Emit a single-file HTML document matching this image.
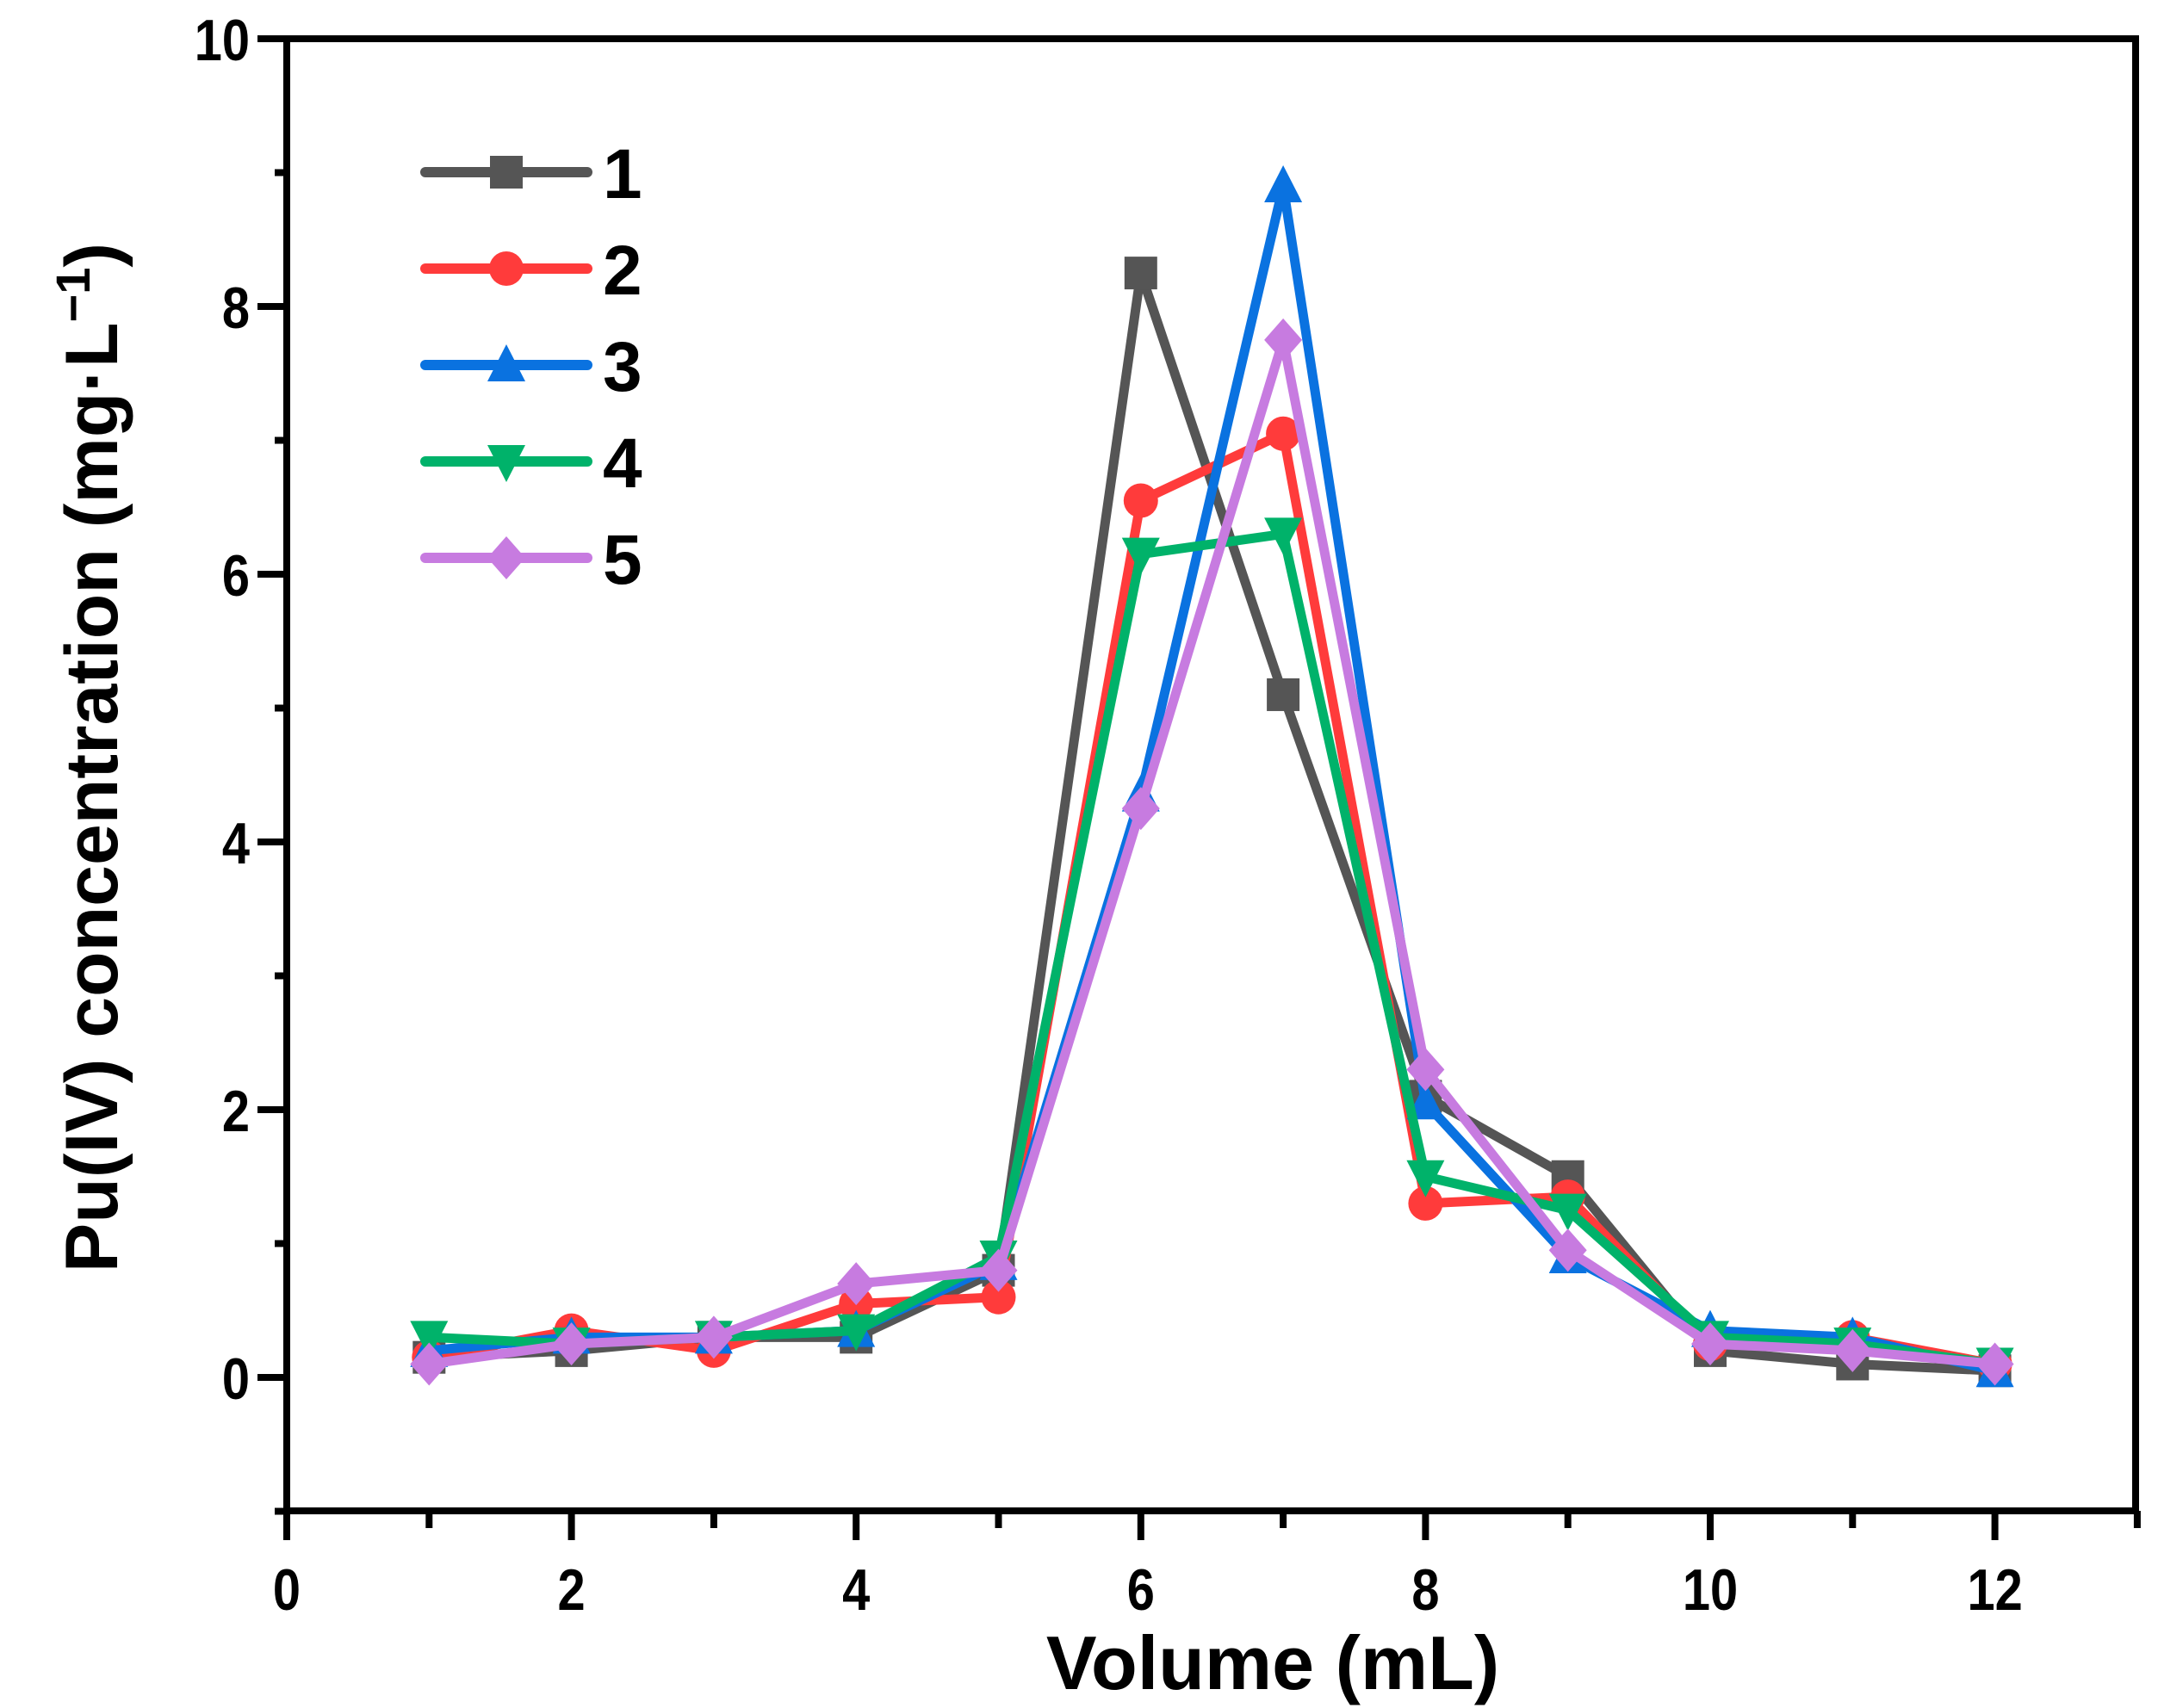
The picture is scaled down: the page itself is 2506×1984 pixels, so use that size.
<!DOCTYPE html>
<html><head><meta charset="utf-8"><style>
html,body{margin:0;padding:0;background:#fff;}
svg{display:block;}
text{font-family:"Liberation Sans",sans-serif;font-weight:bold;fill:#000;}
</style></head><body>
<svg id="chart" width="2506" height="1984" viewBox="0 0 2506 1984" xmlns="http://www.w3.org/2000/svg">
<g id="plot"></g>
</svg>
<script>
const xValues = [1,2,3,4,5,6,7,8,9,10,11,12];
const series1 = [0.15,0.2,0.3,0.3,0.8,8.25,5.1,2.1,1.5,0.2,0.1,0.05];
const series2 = [0.15,0.35,0.2,0.55,0.6,6.55,7.05,1.3,1.35,0.25,0.3,0.1];
const series3 = [0.2,0.3,0.3,0.35,0.85,4.35,8.9,2.05,0.9,0.35,0.3,0.05];
const series4 = [0.3,0.25,0.3,0.35,0.9,6.15,6.3,1.5,1.25,0.3,0.25,0.1];
const series5 = [0.1,0.25,0.3,0.7,0.8,4.25,7.75,2.3,0.95,0.25,0.2,0.1];
const seriesNames = ["1","2","3","4","5"];
const xTickLabels = ["0","2","4","6","8","10","12"];
const yTickLabels = ["0","2","4","6","8","10"];

const NS="http://www.w3.org/2000/svg";
const svg=document.getElementById('plot');
const L=333,R=2480,T=45,B=1755;
const X0=333,XPU=165.3;
function xs(v){return X0+v*XPU;}
function ys(v){return 1600-v*155.5;}
function el(tag,attrs,parent){const e=document.createElementNS(NS,tag);for(const k in attrs)e.setAttribute(k,attrs[k]);(parent||svg).appendChild(e);return e;}

const frame=el('rect',{x:L,y:T,width:R-L,height:B-T,fill:'none',stroke:'#000','stroke-width':8});



for(let v=0;v<=13;v++){
  const major=v%2===0;
  const t=el('line',{x1:xs(v),x2:xs(v),y1:B,y2:B+(major?34:20),stroke:'#000','stroke-width':8});
  
  
}
xTickLabels.forEach(s=>{
  const v=+s;
  const t=el('text',{x:xs(v),y:1870,'font-size':68,'text-anchor':'middle',transform:`translate(${xs(v)},0) scale(0.85,1) translate(${-xs(v)},0)`});
  t.textContent=s;
  
  
});
for(let v=-1;v<=10;v++){
  const major=v%2===0;
  const t=el('line',{x1:L,x2:L-(major?34:14),y1:ys(v),y2:ys(v),stroke:'#000','stroke-width':8});
  
  
}
yTickLabels.forEach(s=>{
  const v=+s;
  const x=290;
  const t=el('text',{x:x,y:ys(v)+25,'font-size':68,'text-anchor':'end',transform:`translate(${x},0) scale(0.85,1) translate(${-x},0)`});
  t.textContent=s;
  
  
});
const xt=el('text',{x:1478,y:1962,'font-size':88,'text-anchor':'middle'});
xt.textContent='Volume (mL)';


const yt=el('text',{x:0,y:0,'font-size':86,'text-anchor':'middle',transform:'translate(136,880) rotate(-90)'});
yt.innerHTML='Pu(IV) concentration (mg·L<tspan dy="-32" font-size="56">−1</tspan><tspan dy="32">)</tspan>';



const colors=['#555555','#ff3b3b','#0a72e0','#00b26a','#c77be0'];
const markers=['square','circle','triangle','tridown','diamond'];
const allSeries=[series1,series2,series3,series4,series5];
function marker(type,cx,cy,color,g){
  const r=19;let m;
  if(type==='square')m=el('rect',{x:cx-r,y:cy-r,width:2*r,height:2*r,fill:color},g);
  else if(type==='circle')m=el('circle',{cx:cx,cy:cy,r:r+1,fill:color},g);
  else if(type==='triangle')m=el('polygon',{points:`${cx},${cy-r-5} ${cx+r+3},${cy+r} ${cx-r-3},${cy+r}`,fill:color},g);
  else if(type==='tridown')m=el('polygon',{points:`${cx},${cy+r+5} ${cx+r+3},${cy-r} ${cx-r-3},${cy-r}`,fill:color},g);
  else m=el('polygon',{points:`${cx},${cy-r-6} ${cx+r+3},${cy} ${cx},${cy+r+6} ${cx-r-3},${cy}`,fill:color},g);
  return m;
}
allSeries.forEach((data,i)=>{
  const g=el('g',{});
  
  
  const pts=data.map((v,j)=>xs(xValues[j])+','+ys(v)).join(' ');
  const pl=el('polyline',{points:pts,fill:'none',stroke:colors[i],'stroke-width':11,'stroke-linejoin':'round'},g);
  
  
  data.forEach((v,j)=>{
    const m=marker(markers[i],xs(xValues[j]),ys(v),colors[i],g);
    
    
  });
});
const lg=el('g',{});


seriesNames.forEach((n,i)=>{
  const y=200+i*112;
  const e=el('g',{},lg);
  
  
  el('line',{x1:494,x2:682,y1:y,y2:y,stroke:colors[i],'stroke-width':12,'stroke-linecap':'round'},e);
  marker(markers[i],588,y,colors[i],e);
  const t=el('text',{x:700,y:y+30,'font-size':82},e);
  t.textContent=n;
});
</script>
</body></html>
